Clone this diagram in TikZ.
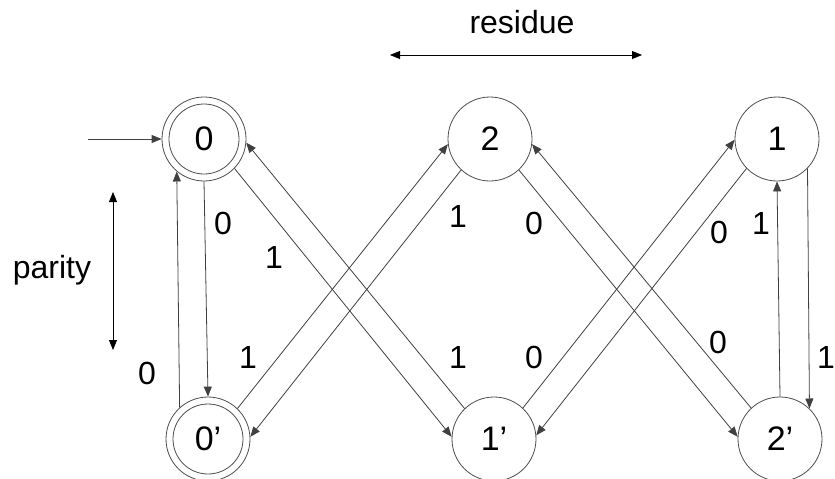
\documentclass[tikz,border=0pt]{standalone}
\usepackage{fontspec}
\setmainfont{Liberation Sans}
\usetikzlibrary{arrows.meta}
\begin{document}
\begin{tikzpicture}[x=1pt,y=-1pt,
  big/.style={font=\fontsize{32}{36}\selectfont},
  state/.style={circle, draw=black!70, line width=0.8pt, minimum size=84pt,
    inner sep=0pt, font=\fontsize{34}{38}\selectfont},
  ring/.style={circle, draw=black!70, line width=0.8pt, minimum size=70pt,
    inner sep=0pt},
  edge/.style={draw=black!75, line width=0.8pt,
    -{Triangle[length=10pt,width=8pt]}},
  both/.style={draw=black, line width=0.8pt,
    {Triangle[length=10pt,width=8pt]}-{Triangle[length=10pt,width=8pt]}},
  lbl/.style={big, inner sep=0pt}]
\path[use as bounding box] (0,0) rectangle (835,479);

% states: residue (columns) x parity (rows)
\node[state] (n0) at (204,139) {0};
\node[ring]  (n0r) at (n0.center) {};
\node[state] (n2) at (490,139) {2};
\node[state] (n1) at (777,139) {1};
\node[state] (m0) at (208,439) {0’};
\node[ring]  (m0r) at (m0.center) {};
\node[state] (m1) at (494,439) {1’};
\node[state] (m2) at (780,439) {2’};

% start arrow
\coordinate (start) at (88,139);
\draw[edge] (start) -- (n0.west);

% transitions
\draw[edge] (n0.south) -- (m0.north);
\draw[edge] (m0.132) -- (n0.-130);
\draw[edge] (n0.-44) -- (m1.177);
\draw[edge] (m1.134) -- (n0.-5);
\draw[edge] (m0.46) -- (n2.187);
\draw[edge] (n2.-133) -- (m0.3);
\draw[edge] (n2.-47) -- (m2.177);
\draw[edge] (m2.133) -- (n2.-7);
\draw[edge] (n1.-136) -- (m1.5);
\draw[edge] (m1.47) -- (n1.181);
\draw[edge] (n1.-44) -- (m2.46);
\draw[edge] (m2.north) -- (n1.south);

% transition labels
\node[lbl] (a1) at (223,223) {0};
\node[lbl] (a2) at (274,257) {1};
\node[lbl] (a3) at (458,216) {1};
\node[lbl] (a4) at (534,223) {0};
\node[lbl] (a5) at (719,232) {0};
\node[lbl] (a6) at (761,223) {1};
\node[lbl] (b1) at (147,373) {0};
\node[lbl] (b2) at (248,357) {1};
\node[lbl] (b3) at (458,357) {1};
\node[lbl] (b4) at (534,357) {0};
\node[lbl] (b5) at (718,342) {0};
\node[lbl] (b6) at (826,357) {1};

% axis annotations
\coordinate (rl) at (390,55);
\coordinate (rr) at (642,55);
\draw[both] (rl) -- (rr);
\node[lbl] (res) at (522,22) {residue};
\coordinate (pt) at (113,192);
\coordinate (pb) at (113,350);
\draw[both] (pt) -- (pb);
\node[lbl] (par) at (52,270) {parity};
\end{tikzpicture}
\end{document}
